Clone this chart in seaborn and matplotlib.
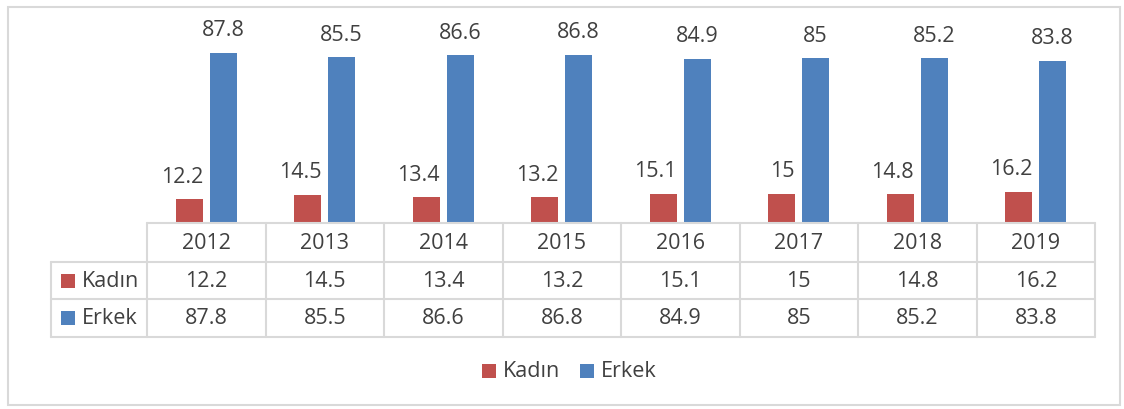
import matplotlib
matplotlib.use("Agg")
import matplotlib.pyplot as plt
from matplotlib.patches import Rectangle
import seaborn as sns
import pandas as pd

years = ["2012", "2013", "2014", "2015", "2016", "2017", "2018", "2019"]
kadin = [12.2, 14.5, 13.4, 13.2, 15.1, 15, 14.8, 16.2]
erkek = [87.8, 85.5, 86.6, 86.8, 84.9, 85, 85.2, 83.8]
series_names = ["Kadın", "Erkek"]
colors = ["#C0504D", "#4F81BD"]

sns.set_theme(style="white")
plt.rcParams['font.family'] = ['Open Sans', 'DejaVu Sans']
TXT = "#404040"
GRID = "#D9D9D9"
FS = 15.5

W, H = 1124, 410
fig = plt.figure(figsize=(W / 100, H / 100), dpi=100)

def fx(x):
    return x / W

def fy(y):
    return 1 - y / H

# outer frame
fig.patches.append(Rectangle((fx(8), fy(406)), fx(1112), 398 / H, transform=fig.transFigure,
                             fill=False, edgecolor=GRID, linewidth=1.5))

col_left, col_right = 147, 1095
base_y, top_y = 224, 20
ax = fig.add_axes([fx(col_left), fy(base_y), fx(col_right - col_left), (base_y - top_y) / H])

df = pd.DataFrame({
    "year": years * 2,
    "value": kadin + erkek,
    "series": [series_names[0]] * len(years) + [series_names[1]] * len(years),
})
sns.barplot(data=df, x="year", y="value", hue="series", hue_order=series_names,
            palette=colors, width=0.57, gap=0.2, ax=ax, legend=False,
            edgecolor="none", saturation=1)
ax.set_xlim(-0.5, len(years) - 0.5)
ax.set_ylim(0, 87.8 * (base_y - top_y) / (base_y - 54))
ax.axis("off")

# data labels: Erkek centred; Kadın labels kept from overlapping the neighbouring bar
for si, cont in enumerate(ax.containers):
    for bar, v in zip(cont.patches, cont.datavalues):
        lab = f"{v:g}"
        if si == 0 and len(lab) > 2:
            x, ha = bar.get_x() + bar.get_width(), "right"
        else:
            x, ha = bar.get_x() + bar.get_width() / 2, "center"
        ax.annotate(lab, (x, bar.get_height()), xytext=(0, 9), textcoords="offset points",
                    ha=ha, va="bottom", fontsize=FS, color=TXT)

# data table
ncol = len(years)
cw = (col_right - col_left) / ncol
row_left = 51
rows_y = [224, 263, 300, 338]
lw = 1.5

def hline(y, x0, x1):
    fig.add_artist(plt.Line2D([fx(x0), fx(x1)], [fy(y), fy(y)], color=GRID, lw=lw,
                              transform=fig.transFigure))

def vline(x, y0, y1):
    fig.add_artist(plt.Line2D([fx(x), fx(x)], [fy(y0), fy(y1)], color=GRID, lw=lw,
                              transform=fig.transFigure))

hline(rows_y[0], col_left, col_right)
for y in rows_y[1:]:
    hline(y, row_left, col_right)
vline(row_left, rows_y[1], rows_y[3])
for i in range(ncol + 1):
    vline(col_left + i * cw, rows_y[0], rows_y[3])

for i, yr in enumerate(years):
    cx = col_left + (i + 0.5) * cw
    fig.text(fx(cx), fy((rows_y[0] + rows_y[1]) / 2), yr, ha="center", va="center",
             fontsize=FS, color=TXT)
    fig.text(fx(cx), fy((rows_y[1] + rows_y[2]) / 2), f"{kadin[i]:g}", ha="center", va="center",
             fontsize=FS, color=TXT)
    fig.text(fx(cx), fy((rows_y[2] + rows_y[3]) / 2), f"{erkek[i]:g}", ha="center", va="center",
             fontsize=FS, color=TXT)

sq = 14
for r, (name, c) in enumerate(zip(series_names, colors)):
    cy = (rows_y[r + 1] + rows_y[r + 2]) / 2
    fig.patches.append(Rectangle((fx(61), fy(cy + sq / 2)), fx(sq), sq / H,
                                 transform=fig.transFigure, facecolor=c, edgecolor="none"))
    fig.text(fx(82), fy(cy), name, ha="left", va="center", fontsize=FS, color=TXT)

# legend
leg_y = 372
for x0, name, c in [(482, series_names[0], colors[0]), (580, series_names[1], colors[1])]:
    fig.patches.append(Rectangle((fx(x0), fy(leg_y + sq / 2)), fx(sq), sq / H,
                                 transform=fig.transFigure, facecolor=c, edgecolor="none"))
    fig.text(fx(x0 + 21), fy(leg_y), name, ha="left", va="center", fontsize=FS, color=TXT)

fig.savefig("out.png", dpi=100)
